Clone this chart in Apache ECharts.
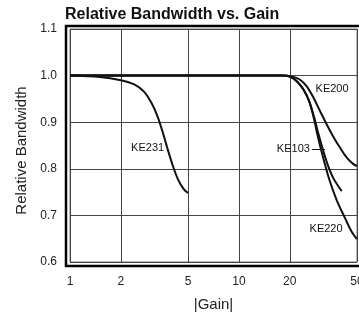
<!DOCTYPE html>
<html>
<head>
<meta charset="utf-8">
<script src="https://cdn.jsdelivr.net/npm/echarts@6/dist/echarts.min.js"></script>
<style>
  html, body { margin: 0; padding: 0; background: #fff; }
  #chart { width: 359px; height: 313px; }
</style>
</head>
<body>
<div id="chart"></div>
<script>
// values: [|gain|, relative bandwidth]
const ke231 = [[1, 1.0], [1.5, 0.997], [2, 0.99], [2.4, 0.981], [2.75, 0.965], [3.05, 0.94], [3.3, 0.912], [3.55, 0.877], [3.8, 0.84], [4.05, 0.808], [4.35, 0.778], [4.7, 0.757], [5, 0.748]];
const ke200 = [[1, 1.0], [10, 1.0], [18, 1.0], [21, 0.997], [23, 0.991], [25.2, 0.977], [27.6, 0.953], [30.2, 0.924], [33.1, 0.895], [36.2, 0.869], [39.7, 0.845], [43.5, 0.824], [47.6, 0.81], [50, 0.806]];
const ke103 = [[1, 1.0], [10, 1.0], [18, 1.0], [20, 0.998], [22, 0.988], [24.1, 0.97], [26.1, 0.944], [27.9, 0.91], [29.6, 0.874], [31.5, 0.84], [33.6, 0.808], [36.2, 0.78], [40.6, 0.752]];
const ke220 = [[1, 1.0], [10, 1.0], [18, 1.0], [20, 0.998], [22, 0.988], [24.1, 0.97], [26.1, 0.944], [27.7, 0.91], [29.2, 0.872], [31.2, 0.83], [34.2, 0.778], [37.9, 0.733], [42.5, 0.694], [46.5, 0.665], [50, 0.649]];
const gainTicks = [1, 2, 5, 10, 20, 50];
const curveLabels = [
  { name: 'KE231', coord: [2.88, 0.845] },
  { name: 'KE200', coord: [35.6, 0.971] },
  { name: 'KE103', coord: [21.0, 0.843] },
  { name: 'KE220', coord: [32.8, 0.671] }
];
const ke103Pointer = [[27.1, 0.843], [32.3, 0.843]];

const font = 'Arial, "Liberation Sans", sans-serif';

function curve(name, data, extra) {
  return Object.assign({
    name: name,
    type: 'line',
    data: data,
    smooth: 0.3,
    showSymbol: false,
    lineStyle: { color: '#111', width: 2 },
    z: 3
  }, extra || {});
}

const chart = echarts.init(document.getElementById('chart'));
chart.setOption({
  animation: false,
  backgroundColor: '#fff',
  title: {
    text: 'Relative Bandwidth vs. Gain',
    left: 60,
    top: 2,
    textStyle: { fontFamily: font, fontSize: 16, fontWeight: 'bold', color: '#111' }
  },
  grid: {
    left: 70, top: 29, right: 2, bottom: 51,
    outerBoundsMode: 'none',
    containLabel: false,
    show: true, borderColor: '#777', borderWidth: 1
  },
  graphic: [{
    type: 'rect',
    shape: { x: 66, y: 26, width: 310, height: 240 },
    style: { fill: 'none', stroke: '#000', lineWidth: 2.5 },
    silent: true,
    z: 10
  }],
  xAxis: {
    type: 'log',
    min: 1,
    max: 50,
    name: '|Gain|',
    nameLocation: 'middle',
    nameGap: 35,
    nameTextStyle: { fontFamily: font, fontSize: 15, color: '#222' },
    axisLine: { show: false },
    axisTick: { show: false, customValues: gainTicks },
    axisLabel: { customValues: gainTicks, margin: 14, fontFamily: font, fontSize: 12, color: '#222' },
    splitLine: { show: true, lineStyle: { color: '#444', width: 1 } },
    minorSplitLine: { show: false }
  },
  yAxis: {
    type: 'value',
    min: 0.6,
    max: 1.1,
    interval: 0.1,
    name: 'Relative Bandwidth',
    nameLocation: 'middle',
    nameGap: 41,
    nameTextStyle: { fontFamily: font, fontSize: 15, color: '#222', padding: [0, 10, 0, 0] },
    axisLine: { show: false },
    axisTick: { show: false },
    axisLabel: { margin: 13, fontFamily: font, fontSize: 12, color: '#222', formatter: v => v.toFixed(1) },
    splitLine: { show: true, lineStyle: { color: '#444', width: 1 } }
  },
  series: [
    curve('KE231', ke231),
    curve('KE200', ke200),
    curve('KE103', ke103, {
      markLine: {
        silent: true,
        symbol: ['none', 'none'],
        label: { show: false },
        lineStyle: { color: '#111', width: 1, type: 'solid' },
        data: [[{ coord: ke103Pointer[0] }, { coord: ke103Pointer[1] }]]
      }
    }),
    curve('KE220', ke220, {
      markPoint: {
        silent: true,
        symbol: 'circle',
        symbolSize: 0,
        label: {
          show: true,
          position: 'inside',
          formatter: p => p.name,
          fontFamily: font,
          fontSize: 11,
          color: '#111'
        },
        data: curveLabels.map(l => ({ name: l.name, coord: l.coord }))
      }
    })
  ]
});
</script>
</body>
</html>
